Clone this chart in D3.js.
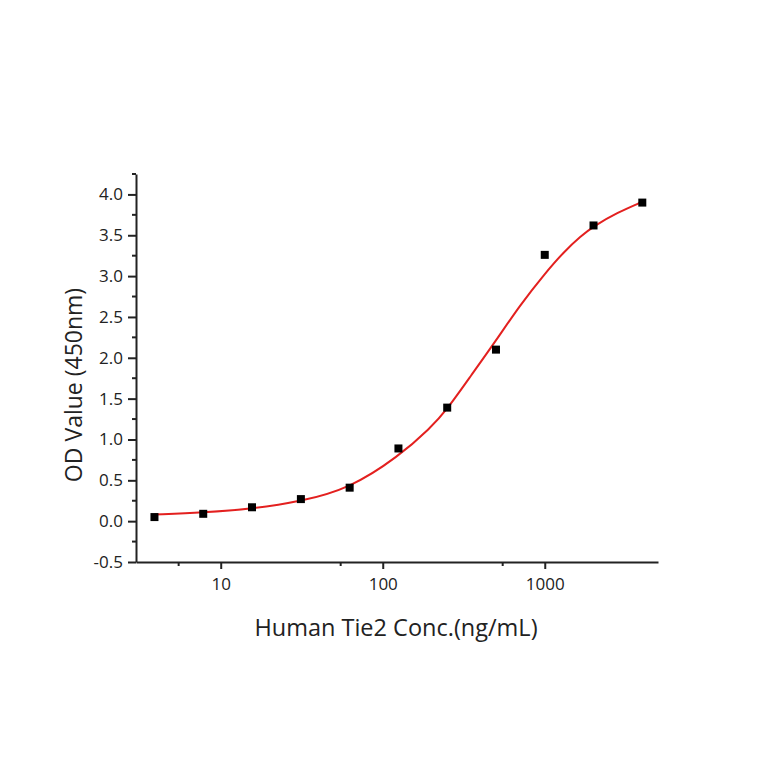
<!DOCTYPE html>
<html>
<head>
<meta charset="utf-8">
<style>
  body { margin: 0; background: #fff; }
  text { font-family: "Open Sans", sans-serif; fill: #222; }
</style>
</head>
<body>
<div id="chart-area"></div>
<script src="https://cdn.jsdelivr.net/npm/d3@7"></script>
<script>
    // measured points (2-fold dilution series)
    var conc = [3.9, 7.8, 15.6, 31.25, 62.5, 125, 250, 500, 1000, 2000, 4000];
    var od = [0.05, 0.09, 0.17, 0.27, 0.41, 0.89, 1.39, 2.10, 3.26, 3.62, 3.90];

    // fitted curve
    var fitConc = [3.9, 7.8, 15.6, 31.25, 62.5, 125, 197, 250, 350, 500, 700, 1000, 1316, 1670, 2000, 2820, 4000];
    var fitOd = [0.08, 0.105, 0.15, 0.24, 0.40, 0.79, 1.14, 1.37, 1.78, 2.21, 2.64, 3.03, 3.30, 3.49, 3.61, 3.78, 3.91];

    var xMajor = [10, 100, 1000];
    var xMinor = [5.5, 55, 550];
    var yMajor = [-0.5, 0.0, 0.5, 1.0, 1.5, 2.0, 2.5, 3.0, 3.5, 4.0];
    var yMinor = [-0.25, 0.25, 0.75, 1.25, 1.75, 2.25, 2.75, 3.25, 3.75, 4.25];

    const width = 764, height = 764;
    const plotLeft = 136, plotRight = 658, plotTop = 174, plotBottom = 562;

    const svg = d3.select("#chart-area").append("svg")
        .attr("width", width)
        .attr("height", height);

    const x = d3.scaleLog().domain([3, 5000]).range([plotLeft, plotRight]);
    const y = d3.scaleLinear().domain([-0.5, 4.25]).range([plotBottom, plotTop]);

    // axes
    const xAxis = svg.append("g").attr("transform", `translate(0,${plotBottom})`);
    xAxis.call(d3.axisBottom(x).tickValues(xMajor).tickFormat(d3.format("d"))
        .tickSizeInner(7).tickSizeOuter(0).tickPadding(9));
    xAxis.selectAll(".minor").data(xMinor).enter().append("line")
        .attr("x1", d => x(d)).attr("x2", d => x(d))
        .attr("y1", 0).attr("y2", 4)
        .attr("stroke", "#222").attr("stroke-width", 2);

    const yAxis = svg.append("g").attr("transform", `translate(${plotLeft},0)`);
    yAxis.call(d3.axisLeft(y).tickValues(yMajor).tickFormat(d => d.toFixed(1))
        .tickSizeInner(8).tickSizeOuter(0).tickPadding(5));
    yAxis.selectAll(".minor").data(yMinor).enter().append("line")
        .attr("x1", 0).attr("x2", -4)
        .attr("y1", d => y(d)).attr("y2", d => y(d))
        .attr("stroke", "#222").attr("stroke-width", 2);

    svg.selectAll(".domain").attr("stroke", "#222").attr("stroke-width", 2);
    svg.selectAll(".tick line").attr("stroke", "#222").attr("stroke-width", 2);
    svg.selectAll(".tick text").attr("font-size", 17).attr("font-family", "Open Sans, sans-serif").attr("fill", "#222");

    // fitted curve
    const line = d3.line()
        .x((d, i) => x(fitConc[i]))
        .y(d => y(d))
        .curve(d3.curveBasis);
    svg.append("path")
        .datum(fitOd)
        .attr("d", line)
        .attr("fill", "none")
        .attr("stroke", "#e3201f")
        .attr("stroke-width", 2);

    // points
    svg.selectAll(".pt").data(od).enter().append("rect")
        .attr("x", (d, i) => x(conc[i]) - 4)
        .attr("y", d => y(d) - 4)
        .attr("width", 8).attr("height", 8)
        .attr("fill", "#000");

    // labels
    svg.append("text")
        .attr("x", 396).attr("y", 636)
        .attr("text-anchor", "middle")
        .attr("font-size", 23.5)
        .text("Human Tie2 Conc.(ng/mL)");

    svg.append("text")
        .attr("transform", "translate(82,385) rotate(-90)")
        .attr("text-anchor", "middle")
        .attr("font-size", 23)
        .text("OD Value (450nm)");
</script>
</body>
</html>
